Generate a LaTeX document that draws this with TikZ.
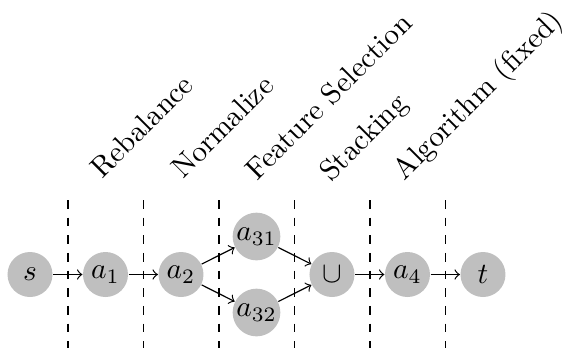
\documentclass[tikz,border=0pt]{standalone}
\begin{document}
\begin{tikzpicture}[x=0.34pt,y=-0.34pt,
  st/.style={circle, fill=black!25, minimum size=15.3pt, inner sep=0.5pt},
  lab/.style={rotate=45, anchor=base west, inner sep=0pt},
  sepline/.style={dashed},
  edge/.style={->}]
\useasboundingbox (0,0) rectangle (569,349);
% separators
\foreach \x in {68,143.5,219,294.5,370,445.5}
  \draw[sepline] (\x,200) -- (\x,348);
% stage labels
\node[lab] (l1) at (102,180) {Rebalance};
\node[lab] (l2) at (183,180) {Normalize};
\node[lab] (l3) at (257,182) {Feature Selection};
\node[lab] (l4) at (331,183) {Stacking};
\node[lab] (l5) at (404,182) {Algorithm (fixed)};
% nodes
\node[st] (s)   at (30,274.5)  {$s$};
\node[st] (a1)  at (105.5,274.5) {$a_1$};
\node[st] (a2)  at (181,274.5) {$a_2$};
\node[st] (a31) at (256.5,236.5) {$a_{31}$};
\node[st] (a32) at (256.5,312.5) {$a_{32}$};
\node[st] (u)   at (332,274.5) {$\cup$};
\node[st] (a4)  at (407.5,274.5) {$a_4$};
\node[st] (t)   at (483,274.5) {$t$};
% edges
\draw[edge] (s) -- (a1);
\draw[edge] (a1) -- (a2);
\draw[edge] (a2) -- (a31);
\draw[edge] (a2) -- (a32);
\draw[edge] (a31) -- (u);
\draw[edge] (a32) -- (u);
\draw[edge] (u) -- (a4);
\draw[edge] (a4) -- (t);
\end{tikzpicture}
\end{document}
